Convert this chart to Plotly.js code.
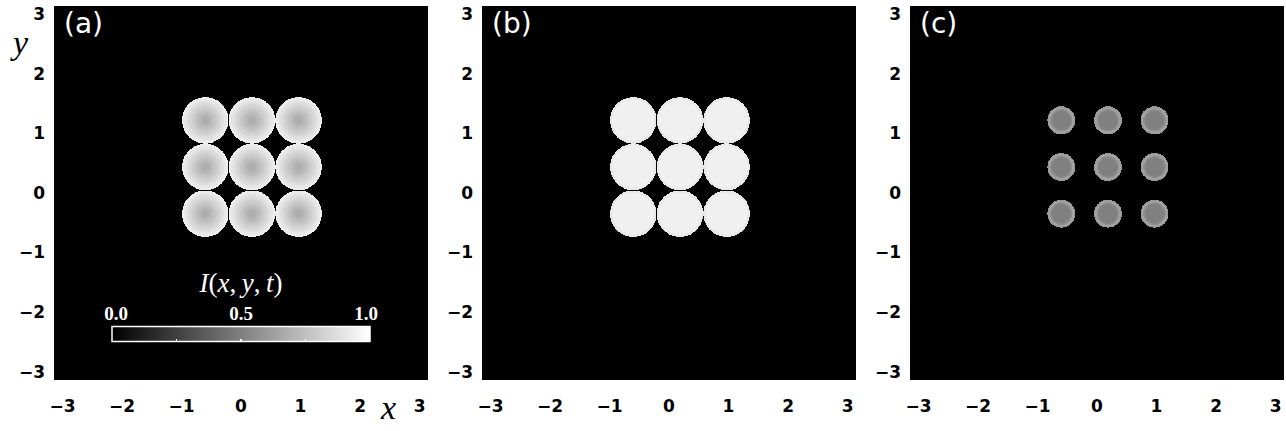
<!DOCTYPE html>
<html>
<head>
<meta charset="utf-8">
<script src="https://cdn.plot.ly/plotly-3.0.1.min.js"></script>
<style>
  html, body { margin: 0; padding: 0; background: #ffffff; }
  #chart { width: 1286px; height: 431px; }
</style>
</head>
<body>
<div id="chart"></div>
<script>
// ---- data ----
const panelLabels = ["(a)", "(b)", "(c)"];
const centersX = [-0.6, 0.185, 0.97];
const centersY = [1.22, 0.435, -0.35];
const radiusA = 0.39;
const radiusB = 0.39;
const radiusC = 0.235;
// radial intensity levels (centre -> rim), equal-width rings
const ringsA = [0.68, 0.69, 0.72, 0.75, 0.78, 0.81, 0.84, 0.87, 0.90, 0.93];
const ringsB = [0.94, 0.94, 0.94, 0.94, 0.94, 0.94, 0.94, 0.94, 0.94, 0.91];
const ringsC = [0.50, 0.50, 0.50, 0.50, 0.50, 0.50, 0.51, 0.56, 0.64, 0.60];
const tickVals = [-3, -2, -1, 0, 1, 2, 3];
const cbTickVals = [0, 0.25, 0.5, 0.75, 1];
const cbLabelVals = [0, 0.5, 1];
const cbLabelText = ["0.0", "0.5", "1.0"];

// ---- build intensity grid from the arrays above ----
const step = 0.006;
const gx = [], gy = [];
for (let v = -1.05; v <= 1.42; v += step) gx.push(+v.toFixed(4));
for (let v = -0.80; v <= 1.67; v += step) gy.push(+v.toFixed(4));

function field(R, rings) {
  const z = [];
  for (let j = 0; j < gy.length; j++) {
    const row = new Array(gx.length).fill(0);
    for (let i = 0; i < gx.length; i++) {
      let best = Infinity;
      for (const cx of centersX) for (const cy of centersY) {
        const d = Math.hypot(gx[i] - cx, gy[j] - cy);
        if (d < best) best = d;
      }
      if (best < R) {
        const k = Math.min(rings.length - 1, Math.floor(best / R * rings.length));
        row[i] = rings[k];
      }
    }
    z.push(row);
  }
  return z;
}

const W = 1286, H = 431;
const plotLeft = [54, 482, 910];
const plotW = 374;
const plotTop = 6, plotBottom = 380;
const cbLeft = 112, cbRight = 370, cbTop = 327, cbBottom = 341.5;
const gray = [[0, "#000000"], [1, "#ffffff"]];

const fields = [field(radiusA, ringsA), field(radiusB, ringsB), field(radiusC, ringsC)];

const traces = fields.map((z, k) => {
  const t = {
    type: "heatmap",
    x: gx, y: gy, z: z,
    colorscale: gray, zmin: 0, zmax: 1,
    zsmooth: false,
    hoverinfo: "skip",
    showscale: k === 0,
    xaxis: k === 0 ? "x" : "x" + (k + 1),
    yaxis: k === 0 ? "y" : "y" + (k + 1)
  };
  if (k === 0) {
    t.colorbar = {
      orientation: "h",
      x: (cbLeft + cbRight) / 2 / W, xanchor: "center",
      y: 1 - (cbBottom + 4) / H, yanchor: "bottom",
      len: cbRight - cbLeft, lenmode: "pixels",
      thickness: cbBottom - cbTop, thicknessmode: "pixels",
      xpad: 0, ypad: 0,
      outlinecolor: "#ffffff", outlinewidth: 1.5,
      borderwidth: 0,
      bgcolor: "rgba(0,0,0,0)",
      tickmode: "array", tickvals: cbTickVals,
      ticks: "inside", ticklen: 3, tickcolor: "#ffffff", tickwidth: 1.5,
      showticklabels: false,
      title: { text: "" }
    };
  }
  return t;
});

// empty trace that carries the colour-bar scale axis (labels above the bar)
traces.push({ type: "scatter", x: [], y: [], xaxis: "x4", yaxis: "y4", hoverinfo: "skip" });

const layout = {
  width: W, height: H,
  margin: { l: 0, r: 0, t: 0, b: 0 },
  paper_bgcolor: "#ffffff",
  plot_bgcolor: "#000000",
  showlegend: false,
  annotations: [],
};

const tickFont = { family: "DejaVu Sans", size: 17, color: "#000000", weight: "bold" };
for (let k = 0; k < 3; k++) {
  const sfx = k === 0 ? "" : String(k + 1);
  layout["xaxis" + sfx] = {
    domain: [plotLeft[k] / W, (plotLeft[k] + plotW) / W],
    range: [-Math.PI, Math.PI],
    anchor: "y" + sfx,
    tickmode: "array", tickvals: tickVals,
    ticks: "", showgrid: false, zeroline: false, showline: false,
    tickfont: tickFont, ticklabelstandoff: 14
  };
  layout["yaxis" + sfx] = {
    domain: [1 - plotBottom / H, 1 - plotTop / H],
    range: [-Math.PI, Math.PI],
    anchor: "x" + sfx,
    tickmode: "array", tickvals: tickVals,
    ticks: "", showgrid: false, zeroline: false, showline: false,
    tickfont: tickFont, ticklabelstandoff: 8
  };
  layout.annotations.push({
    text: panelLabels[k], xref: "paper", yref: "paper",
    x: (plotLeft[k] + 8) / W, y: 1 - 23 / H,
    xanchor: "left", yanchor: "middle", showarrow: false,
    font: { family: "DejaVu Sans", size: 28, color: "#ffffff" }
  });
}

// colour-bar scale (0..1) drawn above the bar
layout.xaxis4 = {
  domain: [(cbLeft + 4) / W, (cbRight - 4) / W],
  range: [0, 1],
  anchor: "y4", side: "top",
  tickmode: "array", tickvals: cbLabelVals, ticktext: cbLabelText,
  ticks: "", showgrid: false, zeroline: false, showline: false,
  ticklabelstandoff: 2,
  tickfont: { family: "Liberation Serif", size: 19, color: "#ffffff", weight: "bold" },
  title: {
    text: "<i>I</i>(<i>x</i>,\u2009<i>y</i>,\u2009<i>t</i>)",
    standoff: 2,
    font: { family: "Liberation Serif", size: 27, color: "#ffffff" }
  }
};
layout.yaxis4 = {
  domain: [1 - cbBottom / H, 1 - cbTop / H],
  range: [0, 1], anchor: "x4",
  visible: false, showgrid: false, zeroline: false
};

layout.annotations.push({
  text: "<i>y</i>", xref: "paper", yref: "paper",
  x: 19 / W, y: 1 - 42 / H, xanchor: "center", yanchor: "middle", showarrow: false,
  font: { family: "Liberation Serif", size: 34, color: "#000000" }
});
layout.annotations.push({
  text: "<i>x</i>", xref: "paper", yref: "paper",
  x: 388 / W, y: 1 - 407 / H, xanchor: "center", yanchor: "middle", showarrow: false,
  font: { family: "Liberation Serif", size: 34, color: "#000000" }
});

Plotly.newPlot("chart", traces, layout, { staticPlot: true, displayModeBar: false });
</script>
</body>
</html>
